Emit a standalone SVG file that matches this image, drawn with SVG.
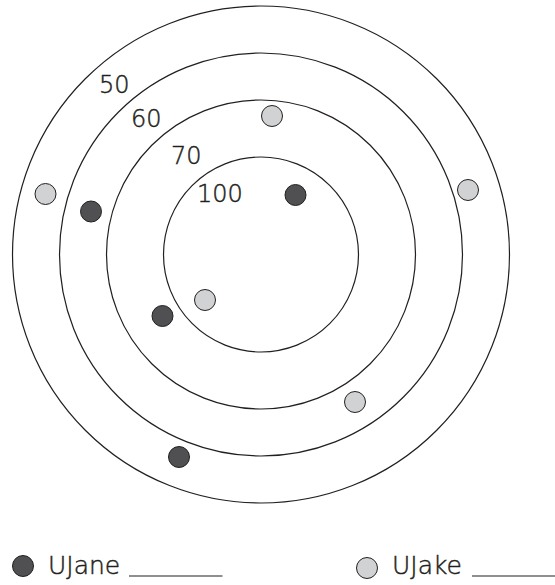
<svg xmlns="http://www.w3.org/2000/svg" width="555" height="585" viewBox="0 0 555 585">
<style>
.ring{fill:none;stroke:#231f20;stroke-width:1.2}
.dark{fill:#505052;stroke:#231f20;stroke-width:1}
.light{fill:#d1d2d4;stroke:#231f20;stroke-width:1}
.lbl{font-family:"DejaVu Sans",Lato,sans-serif;font-weight:300;font-size:24px;fill:#231f20;stroke:#231f20;stroke-width:0.45}
.leg{font-family:"DejaVu Sans",Lato,sans-serif;font-weight:300;font-size:25px;fill:#231f20;stroke:#231f20;stroke-width:0.45}
.line{stroke:#231f20;stroke-width:1.2}
</style>
<rect width="555" height="585" fill="#fff"/>
<g id="target">
<circle class="ring" cx="261" cy="254.5" r="248.5"/>
<circle class="ring" cx="261" cy="254.5" r="201.5"/>
<circle class="ring" cx="261" cy="254.5" r="154.5"/>
<circle class="ring" cx="261" cy="254.5" r="97.5"/>
</g>
<g id="labels">
<text class="lbl" x="99" y="93">50</text>
<text class="lbl" x="131" y="127">60</text>
<text class="lbl" x="171" y="164">70</text>
<text class="lbl" x="197" y="202">100</text>
</g>
<g id="dots">
<circle class="light" cx="272" cy="116" r="10.5"/>
<circle class="dark" cx="295.5" cy="195" r="10.5"/>
<circle class="light" cx="45.5" cy="194" r="10.5"/>
<circle class="dark" cx="91" cy="211.5" r="10.5"/>
<circle class="light" cx="468" cy="190" r="10.5"/>
<circle class="light" cx="205" cy="300" r="10.5"/>
<circle class="dark" cx="162.5" cy="316" r="10.5"/>
<circle class="light" cx="355" cy="402" r="10.5"/>
<circle class="dark" cx="179" cy="457" r="10.5"/>
</g>
<g id="legend-jane">
<circle class="dark" cx="23" cy="566" r="10.5"/>
<text class="leg" x="48" y="573.5">UJane</text>
<line class="line" x1="129" y1="576" x2="222.5" y2="576"/>
</g>
<g id="legend-jake">
<circle class="light" cx="367" cy="568" r="10.5"/>
<text class="leg" x="392" y="573.5">UJake</text>
<line class="line" x1="472" y1="576" x2="555" y2="576"/>
</g>
</svg>
